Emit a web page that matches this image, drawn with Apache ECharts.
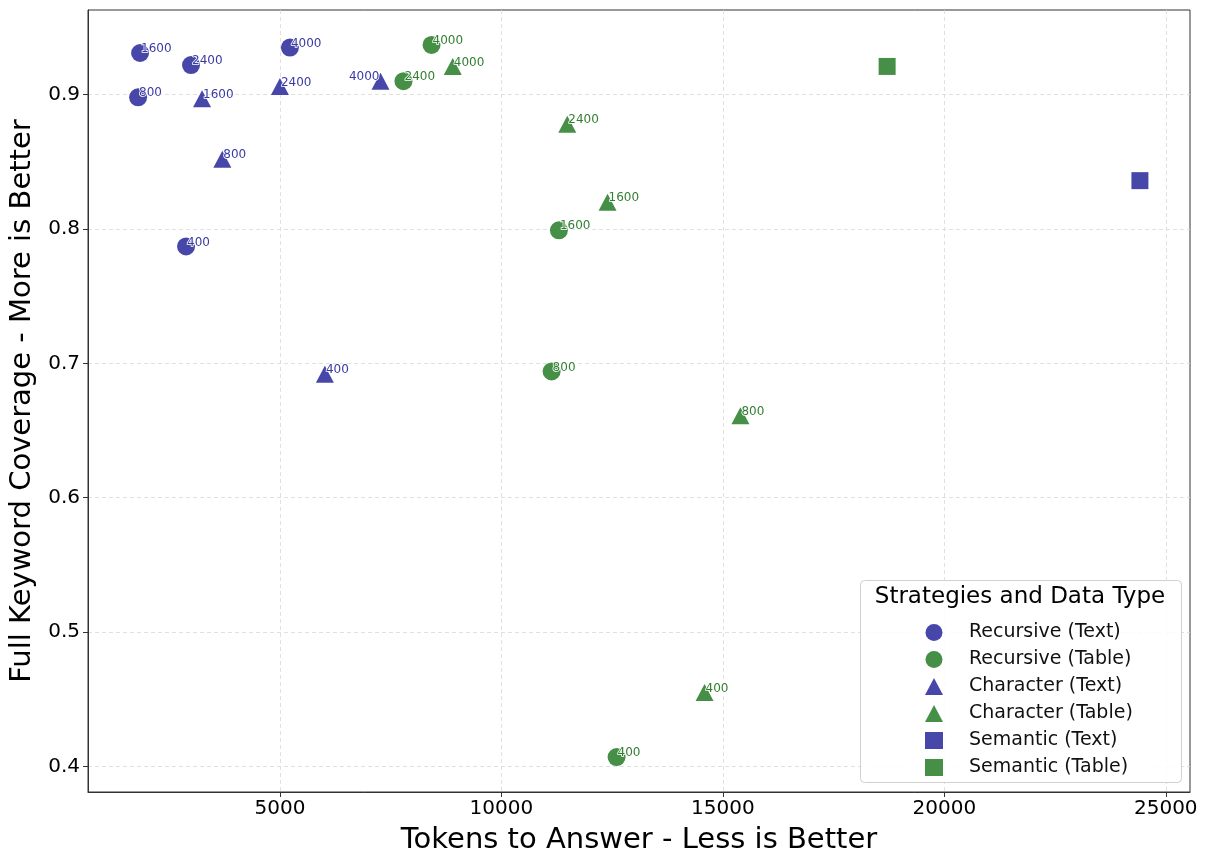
<!DOCTYPE html>
<html>
<head>
<meta charset="utf-8">
<script src="https://cdn.jsdelivr.net/npm/echarts@6/dist/echarts.min.js"></script>
<style>
html,body{margin:0;padding:0;background:#fff;}
#chart{width:1207px;height:852px;}
</style>
</head>
<body>
<div id="chart"></div>
<script>
// ---- data ----
const seriesNames = ['Recursive (Text)', 'Recursive (Table)', 'Character (Text)', 'Character (Table)', 'Semantic (Text)', 'Semantic (Table)'];
// [tokens, coverage, chunk size label]
const recursiveText = [[1798, 0.898, '800'], [1843, 0.931, '1600'], [2993, 0.922, '2400'], [5226, 0.935, '4000'], [2881, 0.787, '400']];
const recursiveTable = [[8423, 0.937, '4000'], [7790, 0.910, '2400'], [11299, 0.799, '1600'], [11134, 0.694, '800'], [12601, 0.407, '400']];
const characterText = [[3242, 0.897, '1600'], [5000, 0.906, '2400'], [3700, 0.852, '800'], [7271, 0.910, '4000'], [6015, 0.692, '400']];
const characterTable = [[8902, 0.921, '4000'], [11488, 0.878, '2400'], [12397, 0.820, '1600'], [15397, 0.661, '800'], [14587, 0.455, '400']];
const semanticText = [[24416, 0.836]];
const semanticTable = [[18709, 0.921]];
const xTicks = [5000, 10000, 15000, 20000, 25000];
const yTicks = [0.4, 0.5, 0.6, 0.7, 0.8, 0.9];
const xRange = [667, 25547];
const yRange = [0.381, 0.963];

// ---- styling ----
const BLUE = '#4747a9';
const GREEN = '#468f46';
const BLUE_T = '#3a3aa6';
const GREEN_T = '#327f32';
const leftLabels = {'Character (Text)': ['4000']};

function labelCfg(color) {
  return {
    show: true,
    position: 'inside',
    align: 'left',
    verticalAlign: 'middle',
    offset: [1, -4],
    fontSize: 12,
    fontFamily: 'DejaVu Sans',
    color: color,
    textBorderColor: '#ffffff',
    textBorderWidth: 1.5,
    formatter: p => (p.value && p.value[2]) ? p.value[2] : ''
  };
}

function mkSeries(name, data, symbol, size, color, tcolor) {
  const left = leftLabels[name] || [];
  return {
    name: name,
    type: 'scatter',
    symbol: symbol,
    symbolSize: size,
    itemStyle: {color: color, opacity: 1},
    label: labelCfg(tcolor),
    data: data.map(d => {
      const o = {value: d};
      if (d[2] && left.indexOf(d[2]) >= 0) {
        o.label = {align: 'right', offset: [-1, -4]};
      }
      return o;
    }),
    emphasis: {disabled: true},
    z: 3
  };
}

const chart = echarts.init(document.getElementById('chart'), null, {renderer: 'canvas'});

chart.setOption({
  backgroundColor: '#ffffff',
  animation: false,
  grid: {left: 88, right: 17, top: 10, bottom: 60, show: true, borderColor: '#333', borderWidth: 1,
    containLabel: false, outerBoundsMode: 'none'},
  xAxis: {
    type: 'value',
    min: xRange[0], max: xRange[1],
    splitNumber: 5,
    name: 'Tokens to Answer - Less is Better',
    nameLocation: 'middle',
    nameGap: 34,
    nameTextStyle: {fontSize: 29, fontFamily: 'DejaVu Sans', color: '#000'},
    axisLine: {show: true, lineStyle: {color: '#333'}},
    axisTick: {show: true, length: 5, lineStyle: {color: '#333'}, customValues: xTicks},
    axisLabel: {fontSize: 20, fontFamily: 'DejaVu Sans', color: '#000', margin: 7,
      customValues: xTicks, formatter: v => String(Math.round(v))},
    splitLine: {show: true, lineStyle: {color: '#d8d8d8', type: [4, 3], width: 0.8}}
  },
  yAxis: {
    type: 'value',
    min: yRange[0], max: yRange[1],
    splitNumber: 5,
    name: 'Full Keyword Coverage - More is Better',
    nameLocation: 'middle',
    nameGap: 49,
    nameTextStyle: {fontSize: 29, fontFamily: 'DejaVu Sans', color: '#000'},
    axisLine: {show: true, lineStyle: {color: '#333'}},
    axisTick: {show: true, length: 5, lineStyle: {color: '#333'}, customValues: yTicks},
    axisLabel: {fontSize: 20, fontFamily: 'DejaVu Sans', color: '#000', margin: 8,
      customValues: yTicks, formatter: v => v.toFixed(1)},
    splitLine: {show: true, lineStyle: {color: '#d8d8d8', type: [4, 3], width: 0.8}}
  },
  legend: {
    orient: 'vertical',
    left: 920,
    top: 618,
    z: 6,
    itemWidth: 18,
    itemHeight: 17,
    itemGap: 8,
    textStyle: {fontSize: 19, fontFamily: 'DejaVu Sans', color: '#111', padding: [0, 0, 0, 21]},
    data: seriesNames.map(n => ({name: n}))
  },
  graphic: [
    {type: 'rect', left: 860, top: 580, shape: {width: 321, height: 202, r: 4},
      style: {fill: 'rgba(255,255,255,0.85)', stroke: '#d0d0d0', lineWidth: 1}, z: 4},
    {type: 'text', x: 1020, y: 586,
      style: {text: 'Strategies and Data Type', fontSize: 23, fontFamily: 'DejaVu Sans', fill: '#000', align: 'center', verticalAlign: 'top'}, z: 5}
  ],
  series: [
    mkSeries(seriesNames[0], recursiveText, 'circle', 18, BLUE, BLUE_T),
    mkSeries(seriesNames[1], recursiveTable, 'circle', 18, GREEN, GREEN_T),
    mkSeries(seriesNames[2], characterText, 'triangle', [18, 17], BLUE, BLUE_T),
    mkSeries(seriesNames[3], characterTable, 'triangle', [18, 17], GREEN, GREEN_T),
    mkSeries(seriesNames[4], semanticText, 'rect', 17, BLUE, BLUE_T),
    mkSeries(seriesNames[5], semanticTable, 'rect', 17, GREEN, GREEN_T)
  ]
});
</script>
</body>
</html>
